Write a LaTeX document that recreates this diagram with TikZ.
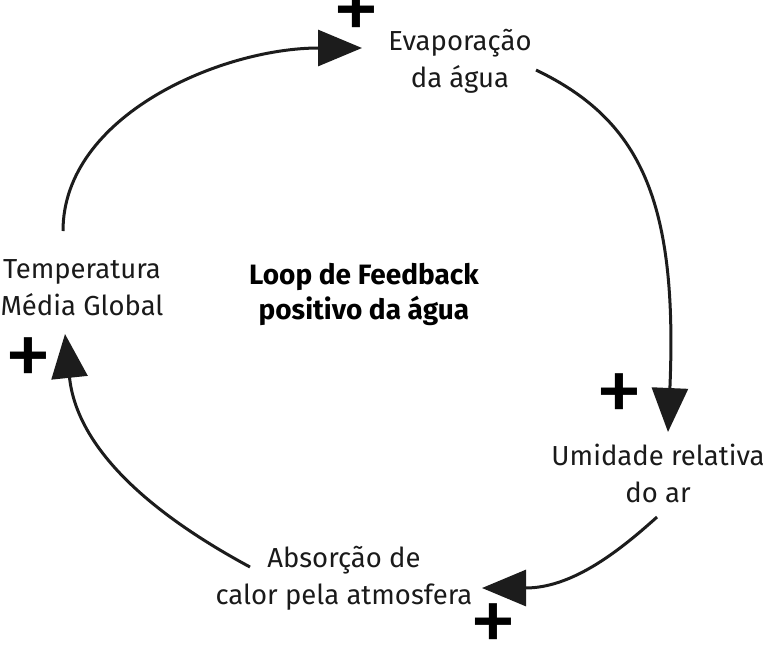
\documentclass[tikz,border=0pt]{standalone}
\usepackage{fontspec}
\setmainfont{Fira Sans}
\usetikzlibrary{arrows.meta}
\definecolor{lineColor}{HTML}{1C1C1C}
\definecolor{textColor}{HTML}{1A1A1A}
\tikzstyle{loopNode} = [align=center, inner sep=0pt, text=textColor, font={\fontsize{27.5}{37}\selectfont}]
\tikzstyle{titleText} = [align=center, inner sep=0pt, text=black, font={\fontsize{28}{35}\selectfont\bfseries}]
\tikzstyle{linkArrow} = [draw=lineColor, line width=3pt, -{Triangle[length=44pt, width=36pt]}]
\tikzstyle{plusSign} = [inner sep=0pt, text=black, font={\fontsize{96}{96}\selectfont}]
\begin{document}
\begin{tikzpicture}[x=1pt, y=-1pt]
    \useasboundingbox (0,0) rectangle (767,646);
    % the four variables of the loop
    \node [loopNode] (evap) at (460,61) {Evaporação\\da água};
    \node [loopNode] (umid) at (658,473) {Umidade relativa\\do ar};
    \node [loopNode] (absor) at (344,578) {Absorção de\\calor pela atmosfera};
    \node [loopNode] (temp) at (82,288) {Temperatura\\Média Global};
    \node [titleText] (title) at (364,294) {Loop de Feedback\\positivo da água};
    % polarity signs
    \node [plusSign] (plusEvap) at (356,17) {+};
    \node [plusSign] (plusUmid) at (619,399) {+};
    \node [plusSign] (plusAbsor) at (493,629) {+};
    \node [plusSign] (plusTemp) at (28,363) {+};
    % links
    \draw [linkArrow] ([shift={(-19,-57)}]temp.center) .. controls +(0,-116) and +(-140,0) .. ([shift={(-98,-13)}]evap.center);
    \draw [linkArrow] ([shift={(76,9)}]evap.center) .. controls +(104,50) and +(10,-232) .. ([shift={(10,-41)}]umid.center);
    \draw [linkArrow] ([shift={(-1,44)}]umid.center) .. controls +(-42,38) and +(88,0) .. ([shift={(138,10)}]absor.center);
    \draw [linkArrow] ([shift={(-94,-11)}]absor.center) .. controls +(-115,-62) and +(11,106) .. ([shift={(-17,46)}]temp.center);
\end{tikzpicture}
\end{document}
